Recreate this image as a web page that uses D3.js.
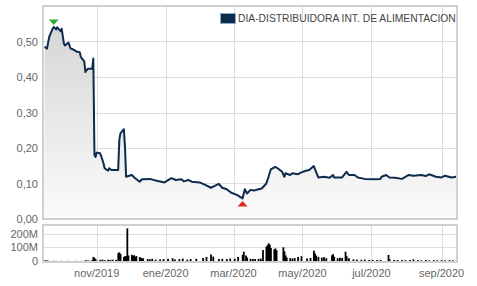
<!DOCTYPE html>
<html>
<head>
<meta charset="utf-8">
<script src="https://cdn.jsdelivr.net/npm/d3@7"></script>
<style>
  body { margin: 0; background: #fff; }
  svg { display: block; font-family: "Liberation Sans", Arial, sans-serif; }
</style>
</head>
<body>
<svg id="chart" width="477" height="286"></svg>
<script>
const seriesName = "DIA-DISTRIBUIDORA INT. DE ALIMENTACION";

// closing price (EUR)
const priceDates = [
  "2019-09-16","2019-09-18","2019-09-20","2019-09-23","2019-09-24","2019-09-26","2019-09-27","2019-09-30",
  "2019-10-01","2019-10-03","2019-10-04","2019-10-07","2019-10-09","2019-10-11","2019-10-14","2019-10-17",
  "2019-10-18","2019-10-21","2019-10-22","2019-10-24","2019-10-28","2019-10-29","2019-10-30","2019-10-31",
  "2019-11-01","2019-11-04","2019-11-05","2019-11-07","2019-11-08","2019-11-11","2019-11-12","2019-11-14",
  "2019-11-19","2019-11-20","2019-11-21","2019-11-22","2019-11-25","2019-11-26","2019-11-27","2019-11-29",
  "2019-12-02","2019-12-05","2019-12-09","2019-12-11","2019-12-13","2019-12-18","2019-12-24","2019-12-31",
  "2020-01-06","2020-01-10","2020-01-15","2020-01-17","2020-01-21","2020-01-24","2020-01-31","2020-02-05",
  "2020-02-10","2020-02-12","2020-02-17","2020-02-20","2020-02-24","2020-02-28","2020-03-04","2020-03-09",
  "2020-03-11","2020-03-13","2020-03-16","2020-03-19","2020-03-23","2020-03-26","2020-03-30","2020-04-01",
  "2020-04-03","2020-04-07","2020-04-09","2020-04-13","2020-04-15","2020-04-16","2020-04-20","2020-04-22",
  "2020-04-27","2020-04-29","2020-05-04","2020-05-07","2020-05-11","2020-05-13","2020-05-15","2020-05-20",
  "2020-05-25","2020-05-28","2020-05-29","2020-06-05","2020-06-09","2020-06-11","2020-06-16","2020-06-19",
  "2020-06-25","2020-07-03","2020-07-09","2020-07-10","2020-07-14","2020-07-17","2020-07-22","2020-07-28",
  "2020-08-03","2020-08-07","2020-08-14","2020-08-18","2020-08-21","2020-08-27","2020-09-01","2020-09-04",
  "2020-09-10","2020-09-14"
];
const priceValues = [
  0.485,0.480,0.513,0.536,0.541,0.534,0.540,0.529,
  0.536,0.494,0.489,0.497,0.480,0.478,0.472,0.470,
  0.456,0.444,0.414,0.423,0.423,0.452,0.180,0.175,
  0.187,0.185,0.177,0.157,0.143,0.136,0.143,0.138,
  0.138,0.138,0.223,0.241,0.253,0.204,0.119,0.121,
  0.124,0.115,0.105,0.112,0.112,0.113,0.108,0.103,
  0.115,0.110,0.112,0.106,0.110,0.105,0.103,0.096,
  0.088,0.091,0.099,0.088,0.084,0.074,0.068,0.058,
  0.084,0.072,0.082,0.080,0.084,0.086,0.100,0.119,
  0.140,0.147,0.143,0.133,0.119,0.129,0.124,0.129,
  0.126,0.130,0.136,0.138,0.149,0.133,0.117,0.119,
  0.116,0.124,0.117,0.117,0.133,0.124,0.124,0.117,
  0.113,0.112,0.113,0.119,0.124,0.117,0.116,0.113,
  0.124,0.122,0.124,0.121,0.126,0.119,0.117,0.122,
  0.117,0.119
];

// traded volume (millions of shares)
const volumeDates = [
  "2019-09-16","2019-09-17","2019-09-18","2019-09-19","2019-09-23","2019-09-26","2019-10-01","2019-10-07",
  "2019-10-14","2019-10-18","2019-10-22","2019-10-23","2019-10-25","2019-10-28","2019-10-29","2019-10-30",
  "2019-10-31","2019-11-04","2019-11-06","2019-11-08","2019-11-11","2019-11-13","2019-11-15","2019-11-18",
  "2019-11-20","2019-11-21","2019-11-22","2019-11-25","2019-11-26","2019-11-27","2019-11-28","2019-11-29",
  "2019-12-02","2019-12-03","2019-12-04","2019-12-05","2019-12-06","2019-12-09","2019-12-10","2019-12-11",
  "2019-12-12","2019-12-16","2019-12-18","2019-12-20","2019-12-23","2019-12-27","2019-12-30","2020-01-03",
  "2020-01-07","2020-01-09","2020-01-13","2020-01-16","2020-01-20","2020-01-23","2020-01-28","2020-02-03",
  "2020-02-06","2020-02-10","2020-02-12","2020-02-17","2020-02-20","2020-02-24","2020-02-27","2020-03-02",
  "2020-03-05","2020-03-09","2020-03-10","2020-03-12","2020-03-13","2020-03-16","2020-03-18","2020-03-20",
  "2020-03-23","2020-03-25","2020-03-27","2020-03-30","2020-03-31","2020-04-01","2020-04-02","2020-04-03",
  "2020-04-06","2020-04-07","2020-04-08","2020-04-14","2020-04-15","2020-04-16","2020-04-17","2020-04-20",
  "2020-04-22","2020-04-24","2020-04-27","2020-04-30","2020-05-05","2020-05-08","2020-05-11","2020-05-12",
  "2020-05-13","2020-05-15","2020-05-18","2020-05-20","2020-05-22","2020-05-27","2020-05-28","2020-05-29",
  "2020-06-01","2020-06-03","2020-06-05","2020-06-08","2020-06-09","2020-06-11","2020-06-15","2020-06-18",
  "2020-06-22","2020-06-25","2020-06-29","2020-07-02","2020-07-06","2020-07-09","2020-07-16","2020-07-17",
  "2020-07-21","2020-07-24","2020-07-28","2020-07-31","2020-08-04","2020-08-07","2020-08-11","2020-08-14",
  "2020-08-18","2020-08-21","2020-08-25","2020-08-28","2020-09-01","2020-09-04","2020-09-08","2020-09-11"
];
const volumeValues = [
  3,4,3,2,1,1,1,1,
  1,1,4,5,3,6,30,22,
  12,8,10,6,9,7,10,8,
  58,63,52,30,34,36,238,40,
  45,38,42,30,36,28,24,18,
  20,14,12,16,10,12,14,16,
  20,12,14,18,10,14,16,22,
  30,48,32,15,16,14,18,16,
  30,45,68,40,25,16,15,14,
  15,18,80,105,115,129,120,95,
  85,92,78,100,70,40,25,20,
  18,22,30,35,18,22,75,55,
  40,30,25,28,20,42,50,30,
  20,24,22,68,35,20,12,10,
  9,10,8,8,7,8,44,12,
  8,7,8,6,7,12,6,5,
  7,5,6,5,6,5,6,5
];

const priceTicks = [0, 0.1, 0.2, 0.3, 0.4, 0.5];
const volumeTicks = [0, 100, 200];
const monthTicks = ["2019-11-01","2020-01-01","2020-03-01","2020-05-01","2020-07-01","2020-09-01"];
const monthLabels = ["nov/2019","ene/2020","mar/2020","may/2020","jul/2020","sep/2020"];

const parse = d3.timeParse("%Y-%m-%d");
const prices = priceDates.map((d, i) => ({ date: parse(d), value: priceValues[i] }));
const volumes = volumeDates.map((d, i) => ({ date: parse(d), value: volumeValues[i] }));

const left = 43, right = 457;
const top1 = 6, bottom1 = 219;
const top2 = 225, bottom2 = 262;

const svg = d3.select("#chart");

let x = d3.scaleTime()
  .domain([new Date(2019, 8, 14, 12), new Date(2020, 8, 14, 16)])
  .range([left, right]);
let y = d3.scaleLinear().domain([0, 0.6]).range([bottom1, top1]);
let yv = d3.scaleLinear().domain([0, 263]).range([bottom2 - 1, top2]);

let fmt = d3.format(".2f");

// gradient for area under price line
let defs = svg.append("defs");
let grad = defs.append("linearGradient")
  .attr("id", "areaGrad")
  .attr("gradientUnits", "userSpaceOnUse")
  .attr("x1", 0).attr("x2", 0)
  .attr("y1", top1).attr("y2", bottom1);
grad.append("stop").attr("offset", 0).attr("stop-color", "#d2d2d2");
grad.append("stop").attr("offset", 1).attr("stop-color", "#fbfbfb");

defs.append("clipPath").attr("id", "clip1")
  .append("rect").attr("x", left).attr("y", top1)
  .attr("width", right - left).attr("height", bottom1 - top1);

// grid, main panel
let grid1 = svg.append("g");
grid1.selectAll("line.h")
  .data(priceTicks.slice(1))
  .enter().append("line")
  .attr("x1", left).attr("x2", right)
  .attr("y1", d => Math.round(y(d)) + 0.5).attr("y2", d => Math.round(y(d)) + 0.5)
  .attr("stroke", "#dcdcdc");
grid1.selectAll("line.v")
  .data(monthTicks)
  .enter().append("line")
  .attr("x1", d => Math.round(x(parse(d))) + 0.5).attr("x2", d => Math.round(x(parse(d))) + 0.5)
  .attr("y1", top1).attr("y2", bottom1)
  .attr("stroke", "#dcdcdc");

// area + line
let area = d3.area()
  .x(d => x(d.date))
  .y0(bottom1)
  .y1(d => y(d.value));
let line = d3.line()
  .x(d => x(d.date))
  .y(d => y(d.value));

let plot = svg.append("g").attr("clip-path", "url(#clip1)");
plot.append("path")
  .datum(prices)
  .attr("d", area)
  .attr("fill", "url(#areaGrad)");

// redraw gridlines faintly over the area so they stay visible
grid1.clone(true).attr("opacity", 0.6).raise();

plot.raise();
plot.append("path")
  .datum(prices)
  .attr("d", line)
  .attr("fill", "none")
  .attr("stroke", "#0d2b4d")
  .attr("stroke-width", 2)
  .attr("stroke-linejoin", "round");

// max / min markers
let maxP = prices.reduce((a, b) => (b.value > a.value ? b : a));
let minP = prices.reduce((a, b) => (b.value < a.value ? b : a));
let mx = x(maxP.date), my = y(maxP.value);
svg.append("path")
  .attr("d", `M${mx - 5},${my - 7.5}L${mx + 5},${my - 7.5}L${mx},${my - 2}Z`)
  .attr("fill", "#34a83a");
let nx = x(minP.date), ny = y(minP.value);
svg.append("path")
  .attr("d", `M${nx - 5},${ny + 8}L${nx + 5},${ny + 8}L${nx},${ny + 2.5}Z`)
  .attr("fill", "#e0251f");

// frame main
svg.append("rect")
  .attr("x", left).attr("y", top1)
  .attr("width", right - left).attr("height", bottom1 - top1)
  .attr("fill", "none").attr("stroke", "#cfcfcf").attr("stroke-width", 2);

// y labels main
svg.append("g").selectAll("text")
  .data(priceTicks)
  .enter().append("text")
  .attr("x", 38).attr("y", d => y(d) + 4)
  .attr("text-anchor", "end")
  .attr("font-size", 11)
  .attr("fill", "#666")
  .text(d => fmt(d).replace(".", ","));

// legend
svg.append("rect")
  .attr("x", 220.5).attr("y", 13.5).attr("width", 15).attr("height", 10)
  .attr("fill", "#0d2b4d").attr("stroke", "#8fa6c0");
svg.append("text")
  .attr("x", 238).attr("y", 22)
  .attr("font-size", 10.3)
  .attr("fill", "#444")
  .text(seriesName);

// volume panel
let grid2 = svg.append("g");
grid2.selectAll("line.h")
  .data(volumeTicks.slice(1))
  .enter().append("line")
  .attr("x1", left).attr("x2", right)
  .attr("y1", d => Math.round(yv(d)) + 0.5).attr("y2", d => Math.round(yv(d)) + 0.5)
  .attr("stroke", "#dcdcdc");
grid2.selectAll("line.v")
  .data(monthTicks)
  .enter().append("line")
  .attr("x1", d => Math.round(x(parse(d))) + 0.5).attr("x2", d => Math.round(x(parse(d))) + 0.5)
  .attr("y1", top2).attr("y2", bottom2)
  .attr("stroke", "#dcdcdc");

svg.append("g").selectAll("rect")
  .data(volumes)
  .enter().append("rect")
  .attr("x", d => x(d.date) - 0.8)
  .attr("width", 1.8)
  .attr("y", d => yv(d.value))
  .attr("height", d => yv(0) - yv(d.value))
  .attr("fill", "#000");

svg.append("rect")
  .attr("x", left).attr("y", top2)
  .attr("width", right - left).attr("height", bottom2 - top2)
  .attr("fill", "none").attr("stroke", "#cfcfcf").attr("stroke-width", 2);

svg.append("g").selectAll("text")
  .data(volumeTicks)
  .enter().append("text")
  .attr("x", 38).attr("y", d => yv(d) + 4)
  .attr("text-anchor", "end")
  .attr("font-size", 11)
  .attr("fill", "#666")
  .text(d => (d === 0 ? "0" : d + "M"));

// x labels
svg.append("g").selectAll("text")
  .data(monthTicks)
  .enter().append("text")
  .attr("x", d => x(parse(d)))
  .attr("y", 277)
  .attr("text-anchor", "middle")
  .attr("font-size", 11)
  .attr("fill", "#666")
  .text((d, i) => monthLabels[i]);
</script>
</body>
</html>
